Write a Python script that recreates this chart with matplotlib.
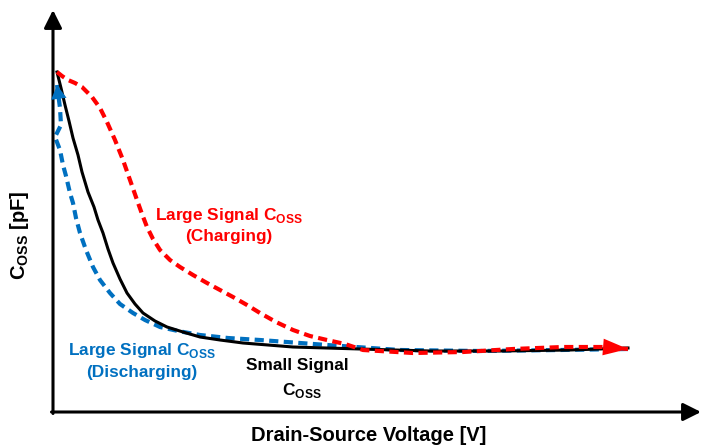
import matplotlib
matplotlib.use("Agg")
import matplotlib.pyplot as plt

plt.rcParams["font.family"] = ["Liberation Sans", "DejaVu Sans"]
plt.rcParams["font.weight"] = "bold"
plt.rcParams["mathtext.fontset"] = "custom"
plt.rcParams["mathtext.rm"] = "Liberation Sans"
plt.rcParams["mathtext.bf"] = "Liberation Sans:bold"

# schematic curves, arbitrary units (voltage, capacitance)
small_v = [4, 8, 12, 16, 20, 25, 29, 35, 41, 45, 50, 55, 60, 67, 74, 82, 90, 102,
           114, 130, 147, 167, 190, 240, 307, 377, 447, 517, 575]
small_c = [340, 324, 307, 291, 274, 257, 240, 220, 205, 192, 179, 163, 149, 133, 119,
           108, 99, 91, 85, 80, 75, 72, 69, 65, 63, 61, 61, 62, 64]

# discharging goes from high voltage back to zero
dis_v = [575, 507, 427, 347, 274, 207, 175, 147, 125, 107, 92, 80, 67, 57, 47, 40,
         33, 27, 23, 20, 17, 13, 10, 7, 2, 8, 7, 4]
dis_c = [63, 62, 61, 62, 67, 72, 74, 77, 81, 85, 92, 99, 108, 119, 132, 145,
         162, 179, 194, 209, 219, 236, 247, 262, 275, 287, 304, 327]

chg_v = [4, 9, 15, 22, 29, 39, 47, 54, 62, 70, 77, 84, 89, 94, 100, 107, 117, 127,
         140, 154, 167, 180, 194, 207, 223, 240, 257, 274, 292, 310, 360, 410, 460,
         510, 550, 575]
chg_c = [340, 336, 332, 329, 325, 315, 304, 290, 272, 252, 232, 212, 198, 185, 173,
         162, 152, 145, 137, 129, 122, 115, 107, 99, 90, 82, 76, 72, 68, 62, 59, 60,
         63, 65, 65, 63]

RED = "#FF0000"
BLUE = "#0070C0"

fig = plt.figure(figsize=(7.04, 4.48), dpi=100)
ax = fig.add_axes([0, 0, 1, 1])
ax.set_xlim(-53, 651)
ax.set_ylim(-36, 412)
ax.axis("off")

# axes with arrows
axis_arrow = dict(arrowstyle="-|>,head_length=0.6,head_width=0.3", lw=2.2,
                  color="black", mutation_scale=18, shrinkA=0, shrinkB=0)
ax.annotate("", xy=(0, 402), xytext=(0, -1.5), arrowprops=axis_arrow)
ax.annotate("", xy=(648, 0), xytext=(-1.5, 0), arrowprops=axis_arrow)

dash = (0, (2.2, 1.3))
ax.plot(dis_v, dis_c, color=BLUE, lw=3, linestyle=dash, zorder=2)
ax.plot(small_v, small_c, color="black", lw=2.2, zorder=3,
        solid_joinstyle="round")
ax.plot(chg_v, chg_c, color=RED, lw=3, linestyle=dash, zorder=4)

ax.annotate("", xy=(dis_v[-1], dis_c[-1]), xytext=(dis_v[-2], dis_c[-2]),
            arrowprops=dict(arrowstyle="-|>,head_length=0.5,head_width=0.28",
                            lw=0, color=BLUE, mutation_scale=20,
                            shrinkA=0, shrinkB=0), zorder=5)
ax.annotate("", xy=(chg_v[-1], chg_c[-1]), xytext=(chg_v[-2], chg_c[-2]),
            arrowprops=dict(arrowstyle="-|>,head_length=0.9,head_width=0.3",
                            lw=0, color=RED, mutation_scale=20,
                            shrinkA=0, shrinkB=0), zorder=5)

fs = 12.4
ax.text(176, 197, "Large Signal C$_{\\mathrm{OSS}}$", color=RED, fontsize=fs,
        ha="center", va="center")
ax.text(176, 176, "(Charging)", color=RED, fontsize=fs, ha="center", va="center")
ax.text(89, 62, "Large Signal C$_{\\mathrm{OSS}}$", color=BLUE, fontsize=fs,
        ha="center", va="center")
ax.text(89, 40, "(Discharging)", color=BLUE, fontsize=fs, ha="center", va="center")
ax.text(244, 47, "Small Signal", color="black", fontsize=fs, ha="center", va="center")
ax.text(249, 22, "C$_{\\mathrm{OSS}}$", color="black", fontsize=fs,
        ha="center", va="center")

ax.text(316, -23, "Drain-Source Voltage [V]", fontsize=14.5, ha="center", va="center")
ax.text(-33, 177, "C$_{\\mathrm{OSS}}$ [pF]", fontsize=14.5, ha="center", va="center",
        rotation=90)

fig.savefig("out.png", dpi=100)
